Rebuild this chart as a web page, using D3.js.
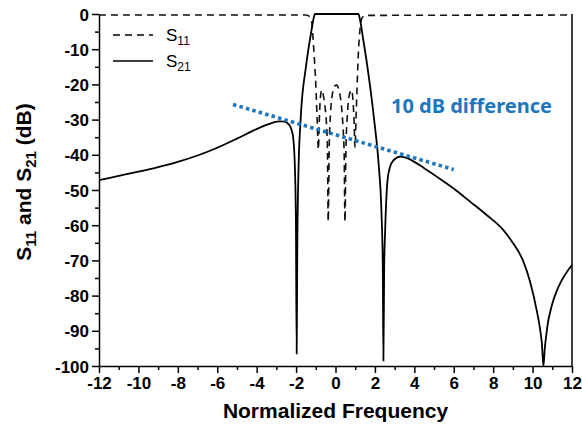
<!doctype html>
<html lang="en">
<head>
  <meta charset="utf-8">
  <title>S11 and S21 response</title>
  <style>
    body { margin: 0; background: #fff; }
    svg { display: block; }
    .axis text { font-family: "Liberation Sans", Arial, sans-serif; font-weight: bold; font-size: 17px; fill: #000; }
    .axis path, .axis line { stroke: #000; stroke-width: 1.5; }
    .title { font-family: "Liberation Sans", Arial, sans-serif; font-weight: bold; font-size: 21px; fill: #000; }
    .legend text { font-family: "Liberation Sans", Arial, sans-serif; font-size: 17px; fill: #000; }
    .note { font-family: "Noto Sans", "Open Sans", sans-serif; font-weight: bold; font-size: 20px; fill: #1e76bd; }
  </style>
</head>
<body>
  <script src="https://cdn.jsdelivr.net/npm/d3@7/dist/d3.min.js"></script>
  <script>

// values: [normalized frequency, dB]
var s21 = [
  [-12, -47.2], [-11, -46.0], [-10, -44.8], [-9, -43.5], [-8, -42.0],
  [-7, -40.2], [-6, -38.0], [-5, -35.4], [-4.2, -33.2], [-3.6, -31.7],
  [-3.2, -30.9], [-2.85, -30.5], [-2.6, -30.6], [-2.4, -31.2], [-2.25, -32.6],
  [-2.15, -35], [-2.07, -42], [-2.01, -58], [-1.97, -96.5], [-1.94, -68],
  [-1.88, -45], [-1.77, -30], [-1.5, -15], [-1.24, -5.4], [-1.12, -1.5],
  [-1.04, 0], [1.16, 0], [1.25, -1.8], [1.4, -7], [1.62, -15], [1.96, -30],
  [2.2, -43.4], [2.33, -56], [2.4, -72], [2.43, -98.5], [2.47, -72],
  [2.52, -61.4], [2.64, -47.2], [2.77, -43.4], [2.94, -41.6], [3.28, -40.5],
  [3.6, -40.9], [4.0, -42.0], [4.5, -43.8], [5.14, -46.2], [5.98, -49.5],
  [6.83, -53.3], [7.67, -57.1], [8.52, -61.4], [9.02, -65.2], [9.54, -70.4],
  [9.87, -76], [10.22, -84.5], [10.38, -89.5], [10.47, -93.5], [10.55, -100],
  [10.62, -95], [10.7, -91], [10.8, -87], [10.9, -84.5], [11.0, -82.3],
  [11.2, -79], [11.4, -76.5], [11.6, -74.5], [11.8, -72.8], [12, -71.3]
];

var s11 = [
  [-12, -0.3], [-1.5, -0.3], [-1.3, -0.8], [-1.21, -2], [-1.15, -6], [-1.08, -12],
  [-1.0, -20], [-0.93, -30], [-0.87, -38.5], [-0.82, -30], [-0.77, -24],
  [-0.7, -21.6], [-0.62, -23], [-0.54, -26], [-0.46, -31], [-0.41, -38],
  [-0.37, -59], [-0.32, -38], [-0.25, -28], [-0.15, -22.5], [-0.05, -20.5],
  [0.06, -20.2], [0.17, -21.5], [0.28, -25], [0.38, -32], [0.44, -40],
  [0.48, -59], [0.53, -38], [0.6, -29], [0.7, -23], [0.82, -21.6], [0.88, -24],
  [0.94, -30], [0.99, -38], [1.04, -30], [1.1, -20], [1.17, -10], [1.25, -4],
  [1.34, -1.2], [1.5, -0.4], [12, -0.3]
];

// the blue dotted guide, two end points
var guide = [[-5.2, -25.7], [6.0, -44.2]];

var xTicks = [-12, -10, -8, -6, -4, -2, 0, 2, 4, 6, 8, 10, 12];
var xMinor = [-11, -9, -7, -5, -3, -1, 1, 3, 5, 7, 9, 11];
var yTicks = [0, -10, -20, -30, -40, -50, -60, -70, -80, -90, -100];
var yMinor = [-5, -15, -25, -35, -45, -55, -65, -75, -85, -95];

var W = 582, H = 433;
var svg = d3.select("body").append("svg").attr("width", W).attr("height", H);

var x = d3.scaleLinear().domain([-12, 12]).range([99, 572]);
var y = d3.scaleLinear().domain([-100, 0]).range([366, 14]);

// plain hyphen for negatives, like the original
var fmt = function(d) { return String(d); };

// minor ticks first, then the labelled ones
svg.append("g").attr("class", "axis")
  .attr("transform", "translate(0," + y(-100) + ")")
  .call(d3.axisBottom(x).tickValues(xMinor).tickSize(4).tickFormat(""))
  .select(".domain").remove();
svg.append("g").attr("class", "axis")
  .attr("transform", "translate(" + x(-12) + ",0)")
  .call(d3.axisLeft(y).tickValues(yMinor).tickSize(4).tickFormat(""))
  .select(".domain").remove();

svg.append("g").attr("class", "axis")
  .attr("transform", "translate(0," + y(-100) + ")")
  .call(d3.axisBottom(x).tickValues(xTicks).tickFormat(fmt).tickSize(7).tickSizeOuter(0).tickPadding(4));
var ya = svg.append("g").attr("class", "axis")
  .attr("transform", "translate(" + x(-12) + ",0)")
  .call(d3.axisLeft(y).tickValues(yTicks).tickFormat(fmt).tickSize(7).tickSizeOuter(0).tickPadding(3));
ya.selectAll("text").attr("dy", "0.36em");

// right border
svg.append("line")
  .attr("x1", x(12)).attr("x2", x(12))
  .attr("y1", y(0)).attr("y2", y(-100))
  .attr("stroke", "#000").attr("stroke-width", 1.5);

svg.append("clipPath").attr("id", "plot")
  .append("rect").attr("x", x(-12)).attr("y", y(0) - 2)
  .attr("width", x(12) - x(-12)).attr("height", y(-100) - y(0) + 2);

var line = d3.line()
  .x(function(d) { return x(d[0]); })
  .y(function(d) { return y(d[1]); })
  .curve(d3.curveMonotoneX);

svg.append("path").datum(s11)
  .attr("clip-path", "url(#plot)")
  .attr("d", line)
  .attr("fill", "none").attr("stroke", "#111")
  .attr("stroke-width", 1.6).attr("stroke-dasharray", "7,5");

svg.append("path").datum(s21)
  .attr("clip-path", "url(#plot)")
  .attr("d", line)
  .attr("fill", "none").attr("stroke", "#000")
  .attr("stroke-width", 1.8);

// blue guide
svg.append("line")
  .attr("x1", x(guide[0][0])).attr("y1", y(guide[0][1]))
  .attr("x2", x(guide[1][0])).attr("y2", y(guide[1][1]))
  .attr("stroke", "#1e76bd").attr("stroke-width", 3.6)
  .attr("stroke-dasharray", "3.5,3.2");

svg.append("text").attr("class", "note")
  .attr("x", 391).attr("y", 113)
  .text("10 dB difference");

// legend
var lg = svg.append("g").attr("class", "legend");
var items = [
  { sub: "11", dash: "7,5", yy: 35 },
  { sub: "21", dash: null, yy: 61 }
];
items.forEach(function(it) {
  lg.append("line")
    .attr("x1", 113).attr("x2", 153)
    .attr("y1", it.yy).attr("y2", it.yy)
    .attr("stroke", "#000").attr("stroke-width", 1.6)
    .attr("stroke-dasharray", it.dash);
  var t = lg.append("text").attr("x", 166).attr("y", it.yy + 6);
  t.append("tspan").text("S");
  t.append("tspan").attr("dy", 4).attr("font-size", "12px").text(it.sub);
});

// axis titles
svg.append("text").attr("class", "title")
  .attr("x", x(0)).attr("y", 418)
  .attr("text-anchor", "middle")
  .text("Normalized Frequency");

var yt = svg.append("text").attr("class", "title")
  .attr("transform", "translate(31,182) rotate(-90)")
  .attr("text-anchor", "middle");
yt.append("tspan").text("S");
yt.append("tspan").attr("dy", 5).attr("font-size", "15px").text("11");
yt.append("tspan").attr("dy", -5).text(" and S");
yt.append("tspan").attr("dy", 5).attr("font-size", "15px").text("21");
yt.append("tspan").attr("dy", -5).text(" (dB)");

  </script>
</body>
</html>
